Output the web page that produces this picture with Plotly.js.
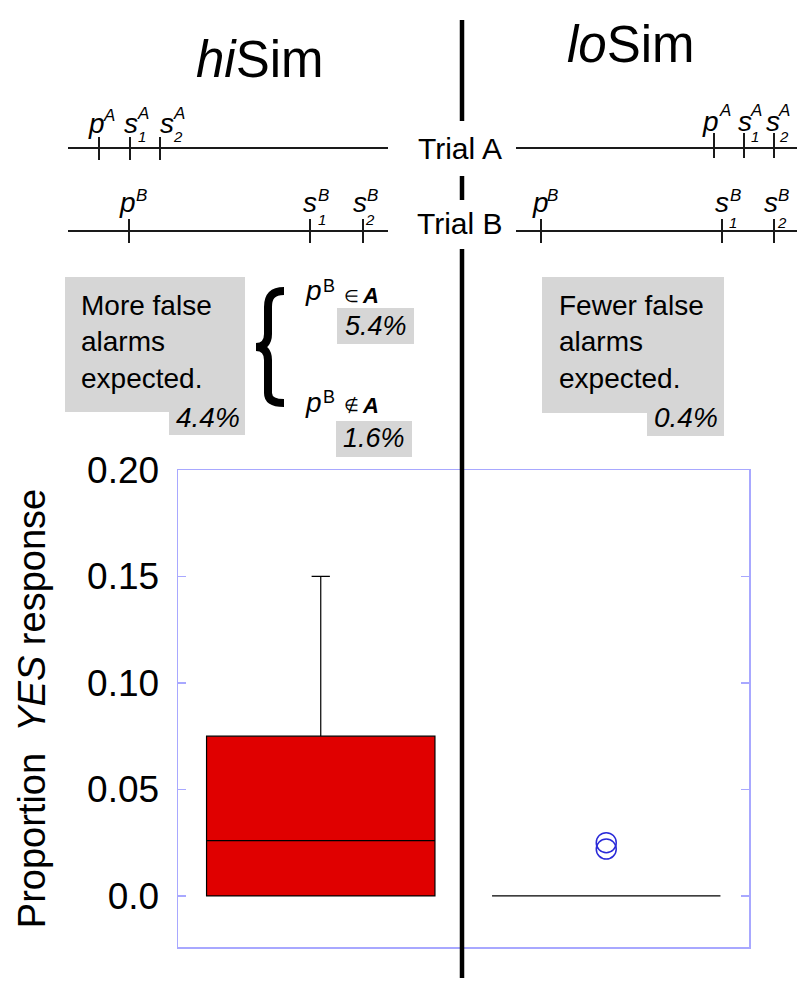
<!DOCTYPE html>
<html>
<head>
<meta charset="utf-8">
<script src="https://cdn.plot.ly/plotly-3.0.1.min.js"></script>
<style>html,body{margin:0;padding:0;background:#fff;}#chart{width:800px;height:1000px;}</style>
</head>
<body>
<div id="chart"></div>
<script>
// ---- data ----
const groupPos = [0, 1];              // hiSim, loSim
const groupNames = ['hiSim', 'loSim'];
const q1Vals = [0, 0];
const medianVals = [0.026, 0];
const q3Vals = [0.075, 0];
const lowerFenceVals = [0, 0];
const upperFenceVals = [0.15, 0];
const outlierPos = [1, 1];
const outlierVals = [0.025, 0.022];
const yTickVals = [0, 0.05, 0.10, 0.15, 0.20];
const yTickText = ['0.0', '0.05', '0.10', '0.15', '0.20'];
const pctHi = '4.4%', pctLo = '0.4%', pctIn = '5.4%', pctOut = '1.6%';

// ---- page geometry (pixels) ----
const PL = 178, PR = 749, PT = 470, PB = 947;
const W = PR - PL, H = PB - PT;
const fx = p => (p - PL) / W;
const fy = p => (PB - p) / H;
const FONT = 'Liberation Sans, Arial, sans-serif';

const shapes = [];
const annotations = [];
function line(x0, y0, x1, y1, w, c) {
  shapes.push({type: 'line', xref: 'paper', yref: 'paper', x0: fx(x0), y0: fy(y0), x1: fx(x1), y1: fy(y1),
    line: {color: c || '#1a1a1a', width: w || 2}});
}
function rect(x0, y0, x1, y1, c) {
  shapes.push({type: 'rect', xref: 'paper', yref: 'paper', x0: fx(x0), y0: fy(y0), x1: fx(x1), y1: fy(y1),
    fillcolor: c || '#d6d6d6', line: {width: 0}, layer: 'below'});
}
function text(t, x, y, size, opts) {
  opts = opts || {};
  annotations.push(Object.assign({text: t, xref: 'paper', yref: 'paper', x: fx(x), y: fy(y), showarrow: false,
    xanchor: 'center', yanchor: 'middle', font: {family: FONT, size: size, color: '#000'}, borderpad: 0}, opts));
}
// path from pixel commands: [['M',x,y], ['C',x1,y1,x2,y2,x,y], ...]
function pathShape(cmds, w) {
  const d = cmds.map(c => {
    const pts = [];
    for (let i = 1; i < c.length; i += 2) pts.push(fx(c[i]).toFixed(5) + ',' + fy(c[i + 1]).toFixed(5));
    return c[0] + pts.join(' ');
  }).join(' ');
  shapes.push({type: 'path', xref: 'paper', yref: 'paper', path: d, line: {color: '#000', width: w}});
}

// heavy divider
line(462, 20, 462, 121, 4.5, '#000');
line(462, 176, 462, 200, 4.5, '#000');
line(462, 249, 462, 978, 4.5, '#000');

// titles
text('<i>hi</i>Sim', 260, 59, 51);
text('<i>lo</i>Sim', 631, 45, 51);
text('Trial A', 460, 148, 30);
text('Trial B', 460, 224, 30);

// timelines
const timelines = [
  {x0: 68, x1: 388, y: 148, t0: 137, t1: 160, ticks: [99, 130, 160]},
  {x0: 68, x1: 388, y: 231, t0: 219, t1: 243, ticks: [129, 310, 363]},
  {x0: 516, x1: 797, y: 148, t0: 133, t1: 158, ticks: [714, 744, 774]},
  {x0: 516, x1: 797, y: 231, t0: 219, t1: 243, ticks: [541, 722, 774]}
];
timelines.forEach(tl => {
  line(tl.x0, tl.y, tl.x1, tl.y, 2);
  tl.ticks.forEach(t => line(t, tl.t0, t, tl.t1, 2));
});
// labels: main letter, superscript, subscript
const labels = [
  {m: 'p', x: 96, y: 123, sup: 'A', sx: 109, sy: 115},
  {m: 's', x: 131, y: 123, sup: 'A', sx: 143, sy: 113, sub: '1', bx: 142, by: 137},
  {m: 's', x: 167, y: 123, sup: 'A', sx: 179, sy: 113, sub: '2', bx: 178, by: 137},
  {m: 'p', x: 127, y: 203, sup: 'B', sx: 141, sy: 195},
  {m: 's', x: 310, y: 203, sup: 'B', sx: 323, sy: 195, sub: '1', bx: 322, by: 220},
  {m: 's', x: 360, y: 203, sup: 'B', sx: 372, sy: 195, sub: '2', bx: 370, by: 220},
  {m: 'p', x: 710, y: 122, sup: 'A', sx: 725, sy: 110},
  {m: 's', x: 745, y: 122, sup: 'A', sx: 756, sy: 110, sub: '1', bx: 755, by: 137},
  {m: 's', x: 773, y: 122, sup: 'A', sx: 784, sy: 110, sub: '2', bx: 784, by: 137},
  {m: 'p', x: 540, y: 203, sup: 'B', sx: 552, sy: 195},
  {m: 's', x: 722, y: 203, sup: 'B', sx: 735, sy: 195, sub: '1', bx: 733, by: 222},
  {m: 's', x: 771, y: 203, sup: 'B', sx: 783, sy: 195, sub: '2', bx: 782, by: 222}
];
labels.forEach(l => {
  text('<i>' + l.m + '</i>', l.x, l.y, 28);
  text('<i>' + l.sup + '</i>', l.sx, l.sy, 17);
  if (l.sub) text('<i>' + l.sub + '</i>', l.bx, l.by, 15);
});

// grey boxes
rect(65, 277, 245, 412); rect(169, 411, 245, 435);
rect(542, 277, 724, 413); rect(647, 412, 724, 436);
rect(337, 308, 414, 344); rect(336, 421, 412, 457);

text('More false<br>alarms<br>expected.', 80, 342, 28, {xanchor: 'left', align: 'left'});
text('<i>' + pctHi + '</i>', 208, 417, 28);
text('Fewer false<br>alarms<br>expected.', 558, 342, 28, {xanchor: 'left', align: 'left'});
text('<i>' + pctLo + '</i>', 686, 417, 28);

// brace
pathShape([
  ['M', 284, 291],
  ['C', 272, 291, 268, 297, 268, 307],
  ['L', 268, 334],
  ['C', 268, 342, 264, 347, 256, 347],
  ['C', 264, 347, 268, 352, 268, 360],
  ['L', 268, 393],
  ['C', 268, 399, 272, 403, 284, 403]
], 8);
// membership labels
text('<i>p</i>', 313, 290, 28);
text('B', 329, 286, 18);
text('∈', 351, 296, 17);
text('<b><i>A</i></b>', 370, 295, 22);
text('<i>' + pctIn + '</i>', 376, 326, 27);
text('<i>p</i>', 313, 402, 28);
text('B', 329, 397, 18);
text('∉', 351, 405, 17);
text('<b><i>A</i></b>', 370, 405, 22);
text('<i>' + pctOut + '</i>', 374, 438, 27);

// ---- traces ----
const boxTrace = {
  type: 'box', x: groupPos, q1: q1Vals, median: medianVals, q3: q3Vals,
  lowerfence: lowerFenceVals, upperfence: upperFenceVals,
  width: 0.8, whiskerwidth: 0.08, boxpoints: false,
  fillcolor: '#e00000', line: {color: '#000', width: 1.2},
  name: 'Proportion YES', hoverinfo: 'skip'
};
const outTrace = {
  type: 'scatter', mode: 'markers', x: outlierPos, y: outlierVals,
  marker: {symbol: 'circle-open', size: 20, color: '#2a2ad8', line: {width: 1.5, color: '#2a2ad8'}},
  hoverinfo: 'skip'
};

const AX = '#a8a8ff';
const layout = {
  width: 800, height: 1000,
  margin: {l: PL, r: 800 - PR, t: PT, b: 1000 - PB, pad: 0},
  paper_bgcolor: '#fff', plot_bgcolor: 'rgba(0,0,0,0)',
  showlegend: false, hovermode: false,
  font: {family: FONT, color: '#000'},
  xaxis: {range: [-0.5, 1.5], showgrid: false, zeroline: false, showticklabels: false, ticks: '',
    showline: true, linecolor: AX, linewidth: 1.5, mirror: true},
  yaxis: {range: [-0.024, 0.2], showgrid: false, zeroline: false,
    tickmode: 'array', tickvals: yTickVals, ticktext: yTickText,
    ticks: 'inside', ticklen: 8, tickcolor: AX, tickwidth: 1.5,
    showline: true, linecolor: AX, linewidth: 1.5, mirror: 'ticks',
    tickfont: {family: FONT, size: 37, color: '#000'}, ticklabelstandoff: 10,
    title: {text: 'Proportion&nbsp; <i>YES</i> response', font: {family: FONT, size: 38, color: '#000'}, standoff: 30}},
  shapes: shapes, annotations: annotations
};
Plotly.newPlot('chart', [boxTrace, outTrace], layout, {staticPlot: true, displayModeBar: false});
</script>
</body>
</html>
